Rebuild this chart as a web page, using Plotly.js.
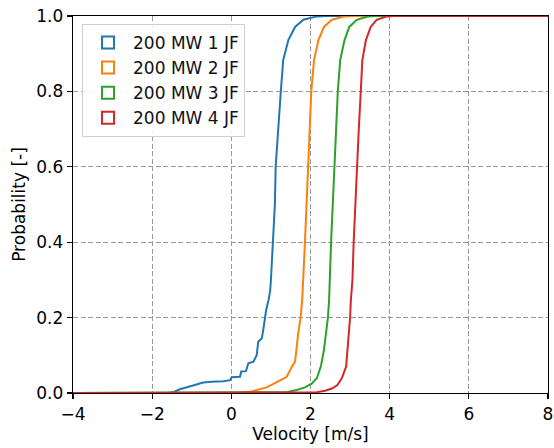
<!DOCTYPE html>
<html>
<head>
<meta charset="utf-8">
<script src="https://cdn.plot.ly/plotly-3.0.1.min.js"></script>
<style>html,body{margin:0;padding:0;background:#fff;}#chart{width:554px;height:448px;}</style>
</head>
<body>
<div id="chart"></div>
<script>
// Series names
const seriesNames = ["200 MW 1 JF", "200 MW 2 JF", "200 MW 3 JF", "200 MW 4 JF"];
const seriesColors = ["#1f77b4", "#ff7f0e", "#2ca02c", "#d62728"];

// Cumulative distribution values (velocity [m/s], probability [-])
const jf1Velocity = [-4, -1.6, -1.45, -1.3, -1.1, -0.96, -0.85, -0.71, -0.5, -0.2, -0.03, 0.01, 0.22, 0.25, 0.37, 0.43, 0.56, 0.64, 0.68, 0.77, 0.81, 0.85, 0.88, 0.94, 0.98, 1.0, 1.05, 1.10, 1.12, 1.18, 1.25, 1.31, 1.44, 1.61, 1.82, 2.16, 2.4, 8];
const jf1Prob     = [0, 0, 0.003, 0.01, 0.016, 0.021, 0.025, 0.028, 0.030, 0.031, 0.034, 0.042, 0.043, 0.057, 0.058, 0.079, 0.083, 0.10, 0.136, 0.145, 0.17, 0.202, 0.22, 0.247, 0.27, 0.30, 0.40, 0.50, 0.60, 0.70, 0.80, 0.883, 0.936, 0.971, 0.99, 0.999, 1, 1];

const jf2Velocity = [-4, 0.1, 0.47, 0.68, 0.89, 1.10, 1.27, 1.40, 1.53, 1.61, 1.69, 1.75, 1.79, 1.82, 1.86, 1.90, 1.94, 1.97, 2.02, 2.09, 2.20, 2.34, 2.54, 2.87, 3.1, 8];
const jf2Prob     = [0, 0, 0.003, 0.008, 0.015, 0.026, 0.035, 0.043, 0.07, 0.083, 0.158, 0.2, 0.247, 0.30, 0.40, 0.50, 0.60, 0.654, 0.80, 0.883, 0.936, 0.971, 0.99, 0.999, 1, 1];

const jf3Velocity = [-4, 1.0, 1.40, 1.65, 1.86, 2.03, 2.16, 2.26, 2.34, 2.44, 2.47, 2.52, 2.56, 2.60, 2.64, 2.69, 2.75, 2.86, 2.98, 3.17, 3.46, 3.65, 8];
const jf3Prob     = [0, 0, 0.002, 0.008, 0.015, 0.025, 0.039, 0.07, 0.114, 0.2, 0.247, 0.40, 0.50, 0.60, 0.70, 0.80, 0.883, 0.936, 0.971, 0.99, 0.999, 1, 1];

const jf4Velocity = [-4, 1.9, 2.16, 2.37, 2.54, 2.68, 2.79, 2.90, 2.94, 3.00, 3.02, 3.06, 3.09, 3.13, 3.18, 3.22, 3.27, 3.31, 3.40, 3.52, 3.67, 3.93, 4.1, 8];
const jf4Prob     = [0, 0, 0.002, 0.006, 0.012, 0.021, 0.039, 0.07, 0.114, 0.2, 0.247, 0.30, 0.40, 0.50, 0.60, 0.70, 0.80, 0.883, 0.936, 0.971, 0.99, 0.999, 1, 1];

const xTickVals = [-4, -2, 0, 2, 4, 6, 8];
const yTickVals = [0, 0.2, 0.4, 0.6, 0.8, 1.0];

const xs = [jf1Velocity, jf2Velocity, jf3Velocity, jf4Velocity];
const ys = [jf1Prob, jf2Prob, jf3Prob, jf4Prob];

const font = "DejaVu Sans, sans-serif";
const fsize = 17;

const traces = seriesNames.map((name, i) => ({
  type: "scatter",
  mode: "lines",
  x: xs[i],
  y: ys[i],
  name: name,
  showlegend: false,
  line: {color: seriesColors[i], width: 2}
}));

// Legend entries as outlined rectangles (like matplotlib step-histogram patches)
const legendShapes = seriesNames.map((name, i) => ({
  type: "rect",
  xref: "x", yref: "y",
  x0: -4, x1: -4, y0: 0, y1: 0,
  line: {color: seriesColors[i], width: 2},
  fillcolor: "rgba(0,0,0,0)",
  showlegend: true,
  name: name,
  layer: "below"
}));

const axisCommon = {
  showline: true, linecolor: "#000", linewidth: 1.3, mirror: true,
  ticks: "outside", ticklen: 5, tickwidth: 1.3, tickcolor: "#000",
  showgrid: true, gridcolor: "#999999", gridwidth: 1.3, griddash: "5px,2.5px",
  zeroline: false,
  tickfont: {family: font, size: fsize, color: "#000"}
};

const layout = {
  width: 554, height: 448,
  margin: {l: 73, r: 6, t: 16, b: 55},
  paper_bgcolor: "#fff", plot_bgcolor: "#fff",
  font: {family: font, size: fsize, color: "#000"},
  xaxis: Object.assign({}, axisCommon, {
    range: [-4, 8], tickvals: xTickVals,
    title: {text: "Velocity [m/s]", font: {family: font, size: fsize, color: "#000"}, standoff: 4}
  }),
  yaxis: Object.assign({}, axisCommon, {
    range: [0, 1], tickvals: yTickVals, tickformat: ".1f",
    title: {text: "Probability [-]", font: {family: font, size: fsize, color: "#000"}, standoff: 6}
  }),
  shapes: legendShapes,
  legend: {
    x: 0.019, y: 0.979, xanchor: "left", yanchor: "top",
    bgcolor: "rgba(255,255,255,0.9)", bordercolor: "#d0d0d0", borderwidth: 1,
    font: {family: font, size: fsize, color: "#111"},
    itemwidth: 40
  },
  showlegend: true
};

Plotly.newPlot("chart", traces, layout, {staticPlot: true, displayModeBar: false});
</script>
</body>
</html>
